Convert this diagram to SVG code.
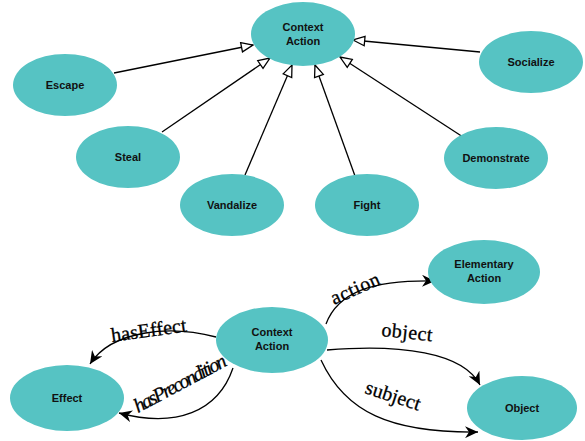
<svg xmlns="http://www.w3.org/2000/svg" width="585" height="441" viewBox="0 0 585 441">
  <style>
    .node ellipse { fill: #56c3c3; stroke: none; }
    .node text { font-family: "Liberation Sans", Arial, sans-serif; font-weight: bold; font-size: 11px; fill: #111; text-anchor: middle; }
    .edge { fill: none; stroke: #000; stroke-width: 1.3; }
    .lbl { font-family: "Liberation Serif", "Times New Roman", serif; font-size: 20px; fill: #000; stroke: #000; stroke-width: 0.3; }
  </style>
  <defs>
    <marker id="open" markerUnits="userSpaceOnUse" markerWidth="14" markerHeight="12" viewBox="0 0 12 10" refX="11" refY="5" orient="auto">
      <path d="M1,1 L11,5 L1,9 Z" fill="#fff" stroke="#000" stroke-width="1.1"/>
    </marker>
    <marker id="barb" markerUnits="userSpaceOnUse" markerWidth="14" markerHeight="12" viewBox="0 0 14 12" refX="13" refY="6" orient="auto">
      <path d="M0,0 L13,6 L0,12 L4,6 Z" fill="#000"/>
    </marker>
  </defs>

  <!-- specialisations of Context Action -->
  <g id="connectors">
    <path class="edge" marker-end="url(#open)" d="M114,73 L253,45"/>
    <path class="edge" marker-end="url(#open)" d="M162,132 L270,58"/>
    <path class="edge" marker-end="url(#open)" d="M245,175 L292,65"/>
    <path class="edge" marker-end="url(#open)" d="M355,176 L315,65"/>
    <path class="edge" marker-end="url(#open)" d="M463,137 L340,57"/>
    <path class="edge" marker-end="url(#open)" d="M480,52 L353,40"/>

    <!-- relations of Context Action -->
    <path class="edge" marker-end="url(#barb)" d="M326,324 C338,292 372,280 435,281"/>
    <path class="edge" marker-end="url(#barb)" d="M327,350 C400,344 463,352 480,385"/>
    <path class="edge" marker-end="url(#barb)" d="M321,360 C345,412 390,433 478,432"/>
    <path class="edge" marker-end="url(#barb)" d="M216,337 C170,325 112,330 90,364"/>
    <path class="edge" marker-end="url(#barb)" d="M233,368 C218,412 176,428 119,413"/>
  </g>

  <g id="edge-labels">
    <text class="lbl" transform="translate(112,342) rotate(-8)" textLength="76">hasEffect</text>
    <text class="lbl" font-style="italic" font-size="18" transform="translate(138,413) rotate(-28)" textLength="102">hasPrecondition</text>
    <text class="lbl" transform="translate(334,305) rotate(-24)" textLength="52">action</text>
    <text class="lbl" transform="translate(381,336) rotate(6)" textLength="51">object</text>
    <text class="lbl" transform="translate(364,393) rotate(18)" textLength="57">subject</text>
  </g>

  <g id="context-action-top" class="node">
    <ellipse cx="303" cy="34" rx="52" ry="32"/>
    <text x="303" y="31">Context</text>
    <text x="303" y="45">Action</text>
  </g>
  <g id="escape" class="node">
    <ellipse cx="65" cy="85" rx="52" ry="31"/>
    <text x="65" y="89">Escape</text>
  </g>
  <g id="steal" class="node">
    <ellipse cx="128" cy="157" rx="52" ry="31"/>
    <text x="128" y="161">Steal</text>
  </g>
  <g id="vandalize" class="node">
    <ellipse cx="232" cy="205" rx="52" ry="31"/>
    <text x="232" y="209">Vandalize</text>
  </g>
  <g id="fight" class="node">
    <ellipse cx="367" cy="205" rx="52" ry="31"/>
    <text x="367" y="209">Fight</text>
  </g>
  <g id="demonstrate" class="node">
    <ellipse cx="496" cy="158" rx="52" ry="31"/>
    <text x="496" y="162">Demonstrate</text>
  </g>
  <g id="socialize" class="node">
    <ellipse cx="531" cy="62" rx="52" ry="31"/>
    <text x="531" y="66">Socialize</text>
  </g>

  <g id="context-action" class="node">
    <ellipse cx="272" cy="340" rx="56" ry="33"/>
    <text x="272" y="336">Context</text>
    <text x="272" y="350">Action</text>
  </g>
  <g id="elementary-action" class="node">
    <ellipse cx="484" cy="272" rx="56" ry="32"/>
    <text x="484" y="268">Elementary</text>
    <text x="484" y="282">Action</text>
  </g>
  <g id="object" class="node">
    <ellipse cx="522" cy="408" rx="55" ry="32"/>
    <text x="522" y="412">Object</text>
  </g>
  <g id="effect" class="node">
    <ellipse cx="67" cy="398" rx="57" ry="33"/>
    <text x="67" y="402">Effect</text>
  </g>
</svg>
